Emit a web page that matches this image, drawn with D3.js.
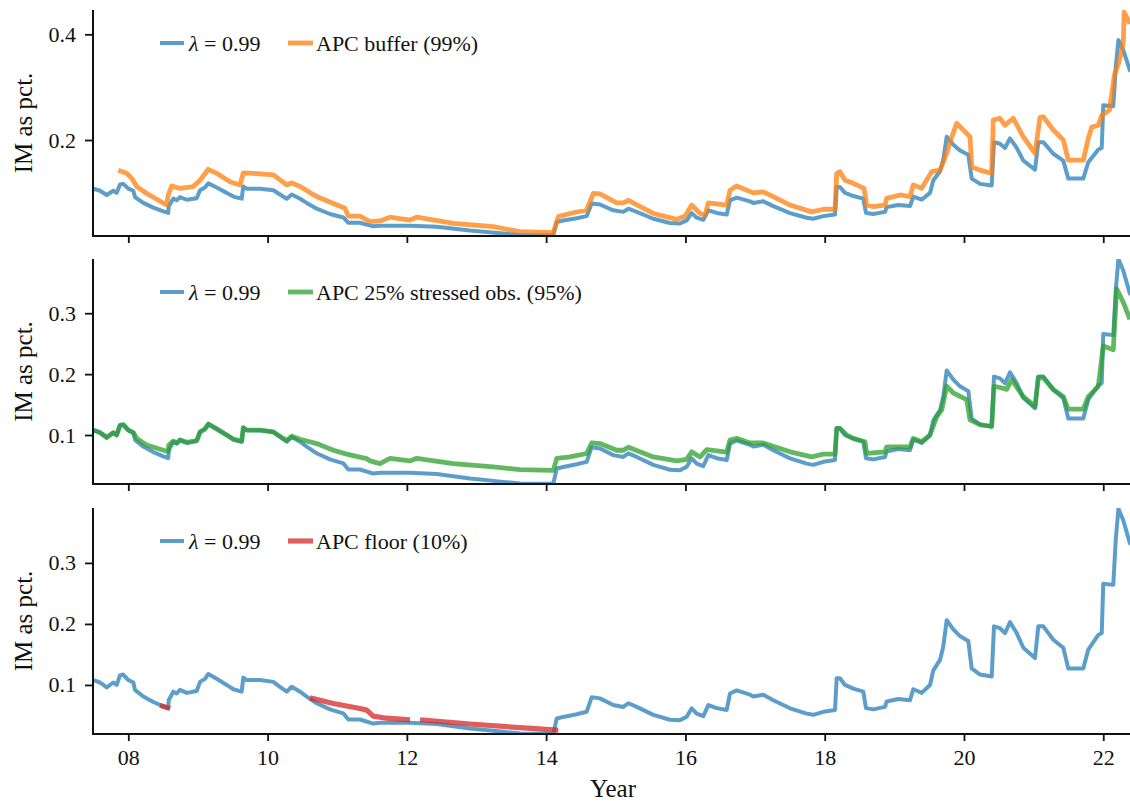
<!DOCTYPE html>
<html>
<head>
<meta charset="utf-8">
<script src="https://cdn.jsdelivr.net/npm/d3@7"></script>
<style>
  html, body { margin: 0; padding: 0; background: #fff; }
  svg { display: block; }
  text { font-family: "Liberation Serif", "DejaVu Serif", serif; fill: #111; }
</style>
</head>
<body>
<svg id="chart" width="1130" height="801"></svg>
<script>
// ---------------- DATA ----------------
// Baseline model (lambda = 0.99), [year, IM as pct.]
const lambdaSeries = [
  [2007.497,0.108],[2007.594,0.104],[2007.690,0.096],[2007.785,0.104],[2007.833,0.100],
  [2007.881,0.116],[2007.928,0.117],[2008.000,0.108],[2008.072,0.104],[2008.096,0.092],
  [2008.215,0.081],[2008.359,0.072],[2008.503,0.065],[2008.574,0.062],[2008.580,0.075],
  [2008.646,0.089],[2008.695,0.086],[2008.742,0.092],[2008.839,0.087],[2008.982,0.090],
  [2009.030,0.105],[2009.101,0.110],[2009.149,0.118],[2009.269,0.110],[2009.413,0.100],
  [2009.508,0.093],[2009.628,0.089],[2009.651,0.112],[2009.700,0.108],[2009.891,0.108],
  [2010.082,0.105],[2010.178,0.097],[2010.275,0.089],[2010.346,0.097],[2010.466,0.089],
  [2010.562,0.081],[2010.705,0.070],[2010.896,0.060],[2011.087,0.0535],[2011.159,0.0434],
  [2011.327,0.0434],[2011.518,0.0367],[2011.614,0.038],[2012.045,0.038],[2012.428,0.036],
  [2012.907,0.0286],[2013.385,0.0231],[2013.625,0.0204],[2014.103,0.020],[2014.152,0.045],
  [2014.246,0.0476],[2014.439,0.052],[2014.582,0.056],[2014.654,0.080],[2014.773,0.078],
  [2014.964,0.067],[2015.108,0.064],[2015.180,0.070],[2015.300,0.064],[2015.539,0.051],
  [2015.778,0.043],[2015.922,0.042],[2016.018,0.048],[2016.090,0.0617],[2016.162,0.053],
  [2016.257,0.049],[2016.329,0.067],[2016.449,0.062],[2016.593,0.059],[2016.640,0.086],
  [2016.736,0.091],[2016.927,0.084],[2016.975,0.081],[2017.118,0.084],[2017.262,0.075],
  [2017.502,0.0617],[2017.741,0.053],[2017.836,0.051],[2017.980,0.056],[2018.148,0.059],
  [2018.172,0.111],[2018.219,0.111],[2018.291,0.100],[2018.411,0.094],[2018.554,0.089],
  [2018.593,0.062],[2018.698,0.060],[2018.866,0.064],[2018.890,0.073],[2019.057,0.077],
  [2019.225,0.075],[2019.272,0.093],[2019.393,0.087],[2019.512,0.100],[2019.560,0.124],
  [2019.656,0.141],[2019.703,0.163],[2019.752,0.206],[2019.847,0.191],[2019.943,0.180],
  [2020.062,0.172],[2020.111,0.127],[2020.230,0.117],[2020.398,0.114],[2020.431,0.196],
  [2020.517,0.193],[2020.589,0.185],[2020.661,0.203],[2020.757,0.185],[2020.852,0.161],
  [2021.020,0.144],[2021.067,0.196],[2021.139,0.196],[2021.283,0.174],[2021.426,0.161],
  [2021.498,0.127],[2021.713,0.127],[2021.785,0.158],[2021.929,0.182],[2021.978,0.185],
  [2022.000,0.266],[2022.144,0.264],[2022.180,0.339],[2022.218,0.389],[2022.287,0.370],
  [2022.383,0.332]
];

// APC buffer (99%)
const bufferSeries = [
  [2007.856,0.143],[2007.977,0.137],[2008.049,0.1275],[2008.121,0.112],[2008.264,0.099],
  [2008.408,0.088],[2008.551,0.077],[2008.574,0.096],[2008.623,0.113],[2008.742,0.1086],
  [2008.933,0.112],[2009.030,0.124],[2009.149,0.1446],[2009.269,0.137],[2009.460,0.121],
  [2009.604,0.115],[2009.651,0.138],[2009.795,0.137],[2010.082,0.134],[2010.275,0.115],
  [2010.346,0.119],[2010.466,0.112],[2010.705,0.093],[2010.944,0.080],[2011.112,0.0708],
  [2011.159,0.056],[2011.327,0.056],[2011.471,0.0455],[2011.614,0.047],[2011.758,0.054],
  [2012.045,0.0486],[2012.141,0.054],[2012.667,0.0424],[2013.241,0.036],[2013.625,0.0265],
  [2014.103,0.0248],[2014.175,0.055],[2014.343,0.061],[2014.582,0.0676],[2014.677,0.099],
  [2014.773,0.098],[2015.013,0.081],[2015.108,0.081],[2015.180,0.086],[2015.539,0.061],
  [2015.875,0.050],[2015.994,0.056],[2016.090,0.077],[2016.210,0.061],[2016.281,0.058],
  [2016.329,0.081],[2016.593,0.077],[2016.640,0.105],[2016.736,0.113],[2016.975,0.100],
  [2017.118,0.102],[2017.262,0.093],[2017.502,0.077],[2017.813,0.064],[2017.980,0.069],
  [2018.148,0.069],[2018.172,0.137],[2018.219,0.140],[2018.291,0.124],[2018.411,0.118],
  [2018.565,0.1086],[2018.603,0.077],[2018.698,0.074],[2018.866,0.077],[2018.890,0.0897],
  [2019.081,0.096],[2019.225,0.093],[2019.272,0.115],[2019.393,0.1086],[2019.536,0.140],
  [2019.656,0.143],[2019.752,0.175],[2019.800,0.197],[2019.896,0.2316],[2019.967,0.222],
  [2020.087,0.206],[2020.111,0.1495],[2020.230,0.143],[2020.398,0.137],[2020.421,0.238],
  [2020.517,0.241],[2020.589,0.228],[2020.708,0.241],[2020.852,0.206],[2021.020,0.175],
  [2021.092,0.243],[2021.139,0.244],[2021.283,0.219],[2021.426,0.200],[2021.498,0.162],
  [2021.713,0.162],[2021.785,0.203],[2021.835,0.2245],[2021.929,0.228],[2021.978,0.247],
  [2022.090,0.257],[2022.160,0.323],[2022.220,0.345],[2022.287,0.383],[2022.300,0.442],
  [2022.383,0.420]
];

// APC 25% stressed obs. (95%)
const stressedSeries = [
  [2007.497,0.108],[2007.594,0.104],[2007.690,0.096],[2007.785,0.104],[2007.833,0.100],
  [2007.881,0.116],[2007.928,0.117],[2008.000,0.108],[2008.072,0.104],[2008.121,0.0945],
  [2008.264,0.0835],[2008.503,0.075],[2008.574,0.073],[2008.580,0.083],[2008.646,0.090],
  [2008.695,0.087],[2008.742,0.092],[2008.839,0.088],[2008.982,0.091],[2009.030,0.105],
  [2009.101,0.110],[2009.149,0.118],[2009.269,0.110],[2009.413,0.100],[2009.508,0.093],
  [2009.628,0.090],[2009.651,0.112],[2009.700,0.108],[2009.891,0.108],[2010.082,0.105],
  [2010.178,0.098],[2010.275,0.091],[2010.346,0.098],[2010.466,0.093],[2010.705,0.086],
  [2010.944,0.075],[2011.135,0.0686],[2011.422,0.0614],[2011.471,0.0575],[2011.614,0.053],
  [2011.758,0.0617],[2012.045,0.0575],[2012.141,0.0617],[2012.667,0.053],[2013.241,0.0476],
  [2013.625,0.0433],[2014.103,0.042],[2014.152,0.0617],[2014.343,0.064],[2014.582,0.0697],
  [2014.654,0.087],[2014.773,0.086],[2015.013,0.075],[2015.108,0.075],[2015.180,0.080],
  [2015.539,0.064],[2015.875,0.0575],[2016.018,0.060],[2016.090,0.0724],[2016.210,0.064],
  [2016.306,0.076],[2016.593,0.072],[2016.640,0.0917],[2016.736,0.0945],[2016.927,0.087],
  [2017.118,0.087],[2017.502,0.0724],[2017.813,0.064],[2017.980,0.0686],[2018.148,0.0686],
  [2018.172,0.111],[2018.219,0.111],[2018.315,0.100],[2018.411,0.0945],[2018.578,0.089],
  [2018.603,0.070],[2018.866,0.0724],[2018.890,0.0807],[2019.225,0.0807],[2019.272,0.0945],
  [2019.393,0.089],[2019.512,0.100],[2019.608,0.130],[2019.680,0.141],[2019.752,0.180],
  [2019.847,0.169],[2020.039,0.158],[2020.087,0.125],[2020.230,0.117],[2020.398,0.114],
  [2020.431,0.180],[2020.517,0.178],[2020.613,0.175],[2020.685,0.191],[2020.852,0.163],
  [2021.020,0.147],[2021.067,0.194],[2021.139,0.194],[2021.283,0.175],[2021.426,0.163],
  [2021.498,0.1425],[2021.713,0.1425],[2021.785,0.163],[2021.929,0.180],[2022.000,0.246],
  [2022.144,0.240],[2022.193,0.340],[2022.287,0.318],[2022.383,0.290]
];

// APC floor (10%) - drawn only where the floor binds (null = gap)
const floorSeries = [
  [2008.455,0.0665],[2008.599,0.0615],
  null,
  [2010.609,0.0788],[2010.944,0.0696],[2011.327,0.0614],[2011.423,0.0587],[2011.518,0.0488],
  [2011.710,0.0455],[2012.045,0.0427],
  null,
  [2012.189,0.043],[2012.907,0.036],[2013.625,0.030],[2014.152,0.026],[2014.175,0.026]
];

const xTickYears = [2008, 2010, 2012, 2014, 2016, 2018, 2020, 2022];
const xTickLabels = ["08", "10", "12", "14", "16", "18", "20", "22"];
const topYTicks = [0.2, 0.4];
const lowerYTicks = [0.1, 0.2, 0.3];
const legendLabels = ["APC buffer (99%)", "APC 25% stressed obs. (95%)", "APC floor (10%)"];

// ---------------- LAYOUT ----------------
const svg = d3.select("#chart");
const left = 93, right = 1130;
const x = d3.scaleLinear().domain([2007.493, 2022.384]).range([left, right]);

const blue = "#1f77b4", orange = "#ff7f0e", green = "#2ca02c", red = "#d62728";
const tickFont = 22, legendFont = 22, labelFont = 25;

const panels = [
  { top: 10, bottom: 236, domain: [0.0184, 0.446], ticks: topYTicks, other: bufferSeries, color: orange, label: legendLabels[0], w: 4.8 },
  { top: 259, bottom: 484, domain: [0.0196, 0.389], ticks: lowerYTicks, other: stressedSeries, color: green, label: legendLabels[1], w: 4.8 },
  { top: 508, bottom: 734, domain: [0.0196, 0.390], ticks: lowerYTicks, other: floorSeries, color: red, label: legendLabels[2], w: 5.2 }
];

panels.forEach((p, i) => {
  const y = d3.scaleLinear().domain(p.domain).range([p.bottom, p.top]);
  const g = svg.append("g");
  const clipId = "clip" + i;
  svg.append("defs").append("clipPath").attr("id", clipId)
    .append("rect").attr("x", left).attr("y", p.top).attr("width", right - left).attr("height", p.bottom - p.top);

  const line = d3.line().defined(d => d !== null).x(d => x(d[0])).y(d => y(d[1]));

  const lines = g.append("g").attr("clip-path", `url(#${clipId})`);
  lines.append("path").datum(lambdaSeries).attr("d", line)
    .attr("fill", "none").attr("stroke", blue).attr("stroke-opacity", 0.72)
    .attr("stroke-width", 4).attr("stroke-linejoin", "round").attr("stroke-linecap", "round");
  lines.append("path").datum(p.other).attr("d", line)
    .attr("fill", "none").attr("stroke", p.color).attr("stroke-opacity", 0.75)
    .attr("stroke-width", p.w).attr("stroke-linejoin", "round").attr("stroke-linecap", "butt");

  // Y axis
  const yAxis = d3.axisLeft(y).tickValues(p.ticks).tickSize(8).tickPadding(9).tickFormat(d3.format(".1f"));
  const ya = g.append("g").attr("transform", `translate(${left},0)`).call(yAxis);
  ya.select(".domain").remove();
  ya.selectAll(".tick line").attr("stroke", "#111").attr("stroke-width", 1.8);
  ya.selectAll(".tick text").attr("font-size", tickFont).attr("font-family", "Liberation Serif, serif").attr("fill", "#111");

  // X axis
  const xAxis = d3.axisBottom(x).tickValues(xTickYears).tickSize(7).tickPadding(8)
    .tickFormat((d, k) => i === 2 ? xTickLabels[k] : "");
  const xa = g.append("g").attr("transform", `translate(0,${p.bottom})`).call(xAxis);
  xa.select(".domain").remove();
  xa.selectAll(".tick line").attr("stroke", "#111").attr("stroke-width", 1.8);
  xa.selectAll(".tick text").attr("font-size", tickFont).attr("font-family", "Liberation Serif, serif").attr("fill", "#111");

  // Spines (left and bottom)
  g.append("line").attr("x1", left).attr("x2", left).attr("y1", p.top).attr("y2", p.bottom + 1)
    .attr("stroke", "#111").attr("stroke-width", 2);
  g.append("line").attr("x1", left - 1).attr("x2", right).attr("y1", p.bottom).attr("y2", p.bottom)
    .attr("stroke", "#111").attr("stroke-width", 2);

  // Y label
  g.append("text")
    .attr("transform", `translate(32,${(p.top + p.bottom) / 2}) rotate(-90)`)
    .attr("text-anchor", "middle").attr("font-size", labelFont).text("IM as pct.");

  // Legend
  const ly = p.top + 33;
  g.append("line").attr("x1", 160).attr("x2", 184).attr("y1", ly).attr("y2", ly)
    .attr("stroke", blue).attr("stroke-opacity", 0.72).attr("stroke-width", 4);
  const t1 = g.append("text").attr("x", 189).attr("y", ly + 7.5).attr("font-size", legendFont);
  t1.append("tspan").attr("font-style", "italic").text("λ");
  t1.append("tspan").text(" = 0.99");
  g.append("line").attr("x1", 288).attr("x2", 313).attr("y1", ly).attr("y2", ly)
    .attr("stroke", p.color).attr("stroke-opacity", 0.75).attr("stroke-width", p.w);
  g.append("text").attr("x", 316).attr("y", ly + 7.5).attr("font-size", legendFont).text(p.label);
});

// X label
svg.append("text").attr("x", 613).attr("y", 797).attr("text-anchor", "middle")
  .attr("font-size", labelFont).text("Year");
</script>
</body>
</html>
